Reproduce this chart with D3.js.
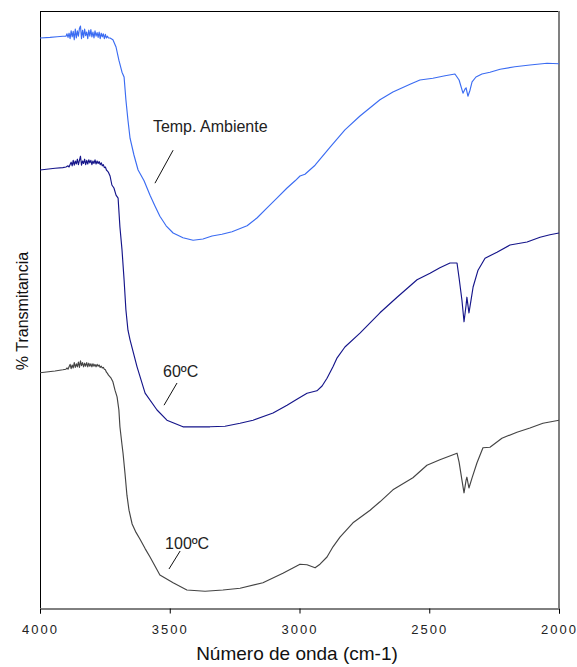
<!DOCTYPE html>
<html>
<head>
<meta charset="utf-8">
<script src="https://cdn.jsdelivr.net/npm/d3@7"></script>
<style>
  html, body { margin: 0; padding: 0; background: #fff; }
  svg { display: block; font-family: "Liberation Sans", Arial, sans-serif; }
</style>
</head>
<body>
<svg id="chart" width="577" height="667"></svg>
<script>
// FTIR spectra: [wavenumber (cm-1), transmittance (offset, arbitrary %)]
const tempAmbiente = [
  [4000,95.0],[3961,95.1],[3934,95.2],[3912,95.3],
  [3900,95.3],[3896,95.7],[3892,95.1],[3888,95.8],[3884,94.9],[3880,96.2],[3876,95.2],[3872,96.1],
  [3868,94.7],[3864,96.5],[3860,95.0],[3856,96.2],[3852,95.3],[3848,96.6],[3844,97.0],[3840,94.9],
  [3836,96.3],[3832,95.1],[3828,96.5],[3824,95.4],[3820,96.0],[3816,94.9],[3812,96.3],[3808,95.3],
  [3804,96.4],[3800,95.2],[3796,96.0],[3792,95.0],[3788,96.2],[3784,95.3],[3780,95.9],[3776,95.1],
  [3772,96.0],[3768,94.9],[3764,95.8],[3760,95.2],[3756,95.7],[3752,94.9],[3748,95.6],[3744,95.0],
  [3740,95.3],[3736,95.0],[3730,95.0],
  [3719,94.7],[3707,93.5],[3696,91.3],[3684,89.3],[3676,88.5],
  [3669,84.7],[3661,81.3],[3653,78.3],[3638,75.5],[3622,73.0],[3599,71.2],[3576,68.8],[3557,67.0],
  [3538,65.3],[3514,63.7],[3487,62.5],[3449,61.7],[3410,61.3],[3372,61.5],[3337,62.0],[3299,62.3],
  [3260,62.7],[3202,63.7],[3164,65.0],[3125,66.7],[3087,68.3],[3048,70.0],[3017,71.2],[2998,72.0],
  [2979,72.3],[2940,73.8],[2882,76.8],[2825,79.7],[2767,82.0],[2690,84.7],[2640,86.0],[2574,87.3],
  [2536,88.0],[2486,88.3],[2439,88.7],[2401,89.0],[2385,88.0],[2370,85.8],[2362,86.5],[2358,86.7],
  [2351,85.3],[2343,86.3],[2335,87.7],[2320,88.5],[2297,89.0],[2266,89.3],[2227,89.8],[2170,90.2],
  [2112,90.5],[2046,90.8],[2000,90.7]
];

const t60 = [
  [4000,73.0],[3942,73.3],[3912,73.4],
  [3900,73.5],[3892,73.7],[3888,73.5],[3884,73.9],[3880,74.3],[3876,73.7],[3872,74.6],[3868,73.8],
  [3864,74.5],[3860,74.0],[3856,74.8],[3852,73.9],[3848,74.6],[3844,75.3],[3840,73.8],[3836,74.5],
  [3832,74.1],[3828,74.8],[3824,73.9],[3820,74.6],[3816,74.0],[3812,74.7],[3808,74.2],[3804,74.6],
  [3800,73.9],[3796,74.5],[3792,74.1],[3788,74.7],[3784,74.0],[3780,74.5],[3776,74.1],[3772,74.4],
  [3768,73.9],[3764,74.2],[3760,73.7],[3756,73.9],[3752,73.4],[3748,73.5],[3744,73.0],[3740,72.8],
  [3736,72.6],[3730,72.0],
  [3723,70.5],[3715,70.0],[3707,68.8],[3699,68.3],[3692,63.5],[3684,59.7],[3676,54.7],[3669,49.7],
  [3661,46.3],[3653,44.7],[3626,40.2],[3595,35.8],[3549,33.0],[3511,31.3],[3449,30.2],[3345,30.2],
  [3287,30.3],[3229,30.8],[3179,31.3],[3102,32.5],[3048,33.8],[3010,34.8],[2971,35.8],[2933,36.2],
  [2913,37.0],[2894,38.3],[2871,40.2],[2855,41.7],[2825,43.5],[2767,45.8],[2690,49.2],[2624,51.8],
  [2547,54.7],[2497,55.8],[2459,56.7],[2420,57.5],[2393,57.5],[2385,55.0],[2374,51.3],[2366,47.7],
  [2358,50.5],[2355,51.8],[2347,49.2],[2339,51.3],[2331,53.5],[2312,56.3],[2285,58.3],[2239,59.3],
  [2189,60.5],[2123,61.0],[2073,61.8],[2035,62.2],[2000,62.5]
];

const t100 = [
  [4000,39.2],[3942,39.5],[3912,39.7],
  [3900,39.8],[3896,40.0],[3892,39.8],[3888,40.2],[3884,40.6],[3880,39.9],[3876,40.5],[3872,40.0],
  [3868,40.9],[3864,40.1],[3860,40.7],[3856,40.2],[3852,41.0],[3848,40.1],[3844,41.2],[3840,40.4],
  [3836,40.9],[3832,40.2],[3828,40.8],[3824,40.3],[3820,40.9],[3816,40.2],[3812,40.8],[3808,40.3],
  [3804,40.7],[3800,40.2],[3796,40.7],[3792,40.3],[3788,40.6],[3784,40.2],[3780,40.6],[3776,40.3],
  [3772,40.5],[3768,40.1],[3764,40.3],[3760,40.0],[3756,40.1],[3752,39.8],[3748,39.7],[3744,39.3],
  [3740,39.1],[3736,38.8],[3726,38.3],
  [3719,37.7],[3711,36.3],[3703,35.2],[3696,33.0],[3692,30.2],[3684,27.2],[3680,25.8],[3672,22.2],
  [3665,18.8],[3657,16.3],[3645,14.0],[3630,12.6],[3615,11.5],[3595,9.9],[3576,8.5],[3538,5.5],[3487,4.2],
  [3434,3.0],[3364,2.8],[3295,3.0],[3229,3.3],[3141,4.2],[3064,5.8],[2998,7.3],[2971,7.2],
  [2940,6.7],[2921,7.3],[2894,8.5],[2871,10.2],[2844,11.8],[2794,14.2],[2778,14.7],[2728,16.3],
  [2690,17.7],[2640,19.7],[2563,21.7],[2509,23.8],[2459,24.7],[2393,25.8],[2385,24.3],[2374,21.3],
  [2366,19.2],[2358,21.3],[2355,21.8],[2347,20.0],[2335,21.7],[2316,24.2],[2293,26.7],[2266,26.8],
  [2220,28.3],[2162,29.3],[2112,30.0],[2062,30.8],[2000,31.3]
];

const xTicks = [4000, 3500, 3000, 2500, 2000];
const seriesNames = ["Temp. Ambiente", "60ºC", "100ºC"];
// leader lines: label anchor, line start, line end (wavenumber, transmittance)
const labelAnchors = [[3565, 79.3], [3526, 38.5], [3518, 9.8]];
const leaderFrom = [[3487, 76.3], [3472, 37.5], [3460, 9.5]];
const leaderTo = [[3557, 70.8], [3522, 33.8], [3503, 6.5]];

const colors = ["#3b6cf2", "#15158a", "#444444"];

const svg = d3.select("#chart");
const plotLeft = 40, plotRight = 559, plotTop = 11, plotBottom = 608;

const x = d3.scaleLinear().domain([4000, 2000]).range([plotLeft, plotRight]);
const y = d3.scaleLinear().domain([0, 99.5]).range([plotBottom, plotTop]);

// frame
svg.append("line").attr("x1", plotLeft).attr("x2", plotRight).attr("y1", plotTop + 0.5).attr("y2", plotTop + 0.5)
  .attr("stroke", "#000").attr("stroke-width", 1);
svg.append("line").attr("x1", plotRight).attr("x2", plotRight).attr("y1", plotTop).attr("y2", plotBottom)
  .attr("stroke", "#808080").attr("stroke-width", 2);
svg.append("line").attr("x1", plotLeft + 0.5).attr("x2", plotLeft + 0.5).attr("y1", plotTop).attr("y2", plotBottom)
  .attr("stroke", "#000").attr("stroke-width", 1);

// x axis
const xAxis = d3.axisBottom(x).tickValues(xTicks).tickSize(5).tickPadding(11).tickFormat(d3.format("d"));
const gx = svg.append("g").attr("transform", `translate(0,${plotBottom + 0.5})`).call(xAxis);
gx.select(".domain").attr("stroke", "#000");
gx.selectAll(".tick line").attr("stroke", "#000");
gx.selectAll(".tick text")
  .attr("font-family", "'Liberation Sans', Arial, sans-serif")
  .attr("font-size", 13).attr("fill", "#222")
  .style("letter-spacing", "2px");

// curves
const line = d3.line().x(d => x(d[0])).y(d => y(d[1]));
[tempAmbiente, t60, t100].forEach((s, i) => {
  svg.append("path").datum(s).attr("d", line)
    .attr("fill", "none").attr("stroke", colors[i])
    .attr("stroke-width", 1.15).attr("stroke-linejoin", "round");
});

// series labels with leader lines
seriesNames.forEach((name, i) => {
  svg.append("line")
    .attr("x1", x(leaderFrom[i][0])).attr("y1", y(leaderFrom[i][1]))
    .attr("x2", x(leaderTo[i][0])).attr("y2", y(leaderTo[i][1]))
    .attr("stroke", "#111").attr("stroke-width", 1);
  svg.append("text")
    .attr("x", x(labelAnchors[i][0])).attr("y", y(labelAnchors[i][1]))
    .attr("font-size", 16).attr("fill", "#222")
    .text(name);
});

// axis titles
svg.append("text")
  .attr("x", 297).attr("y", 660)
  .attr("text-anchor", "middle").attr("font-size", 19).attr("fill", "#111")
  .text("Número de onda (cm-1)");

svg.append("text")
  .attr("transform", "translate(28,311) rotate(-90)")
  .attr("text-anchor", "middle").attr("font-size", 16).attr("fill", "#111")
  .text("% Transmitancia");
</script>
</body>
</html>
